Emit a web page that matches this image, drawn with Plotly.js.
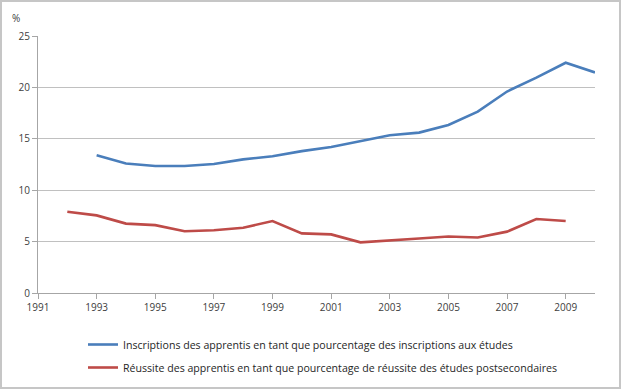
<!DOCTYPE html>
<html><head><meta charset="utf-8">
<script src="https://cdn.plot.ly/plotly-3.0.1.min.js"></script>
<style>
html,body{margin:0;padding:0;background:#fff;}
#wrap{width:621px;height:389px;box-sizing:border-box;border:2px solid #c6c6c6;background:#fff;}
#chart{width:617px;height:385px;}
</style></head>
<body><div id="wrap"><div id="chart"></div></div>
<script>
const yearsEnroll = [1993,1994,1995,1996,1997,1998,1999,2000,2001,2002,2003,2004,2005,2006,2007,2008,2009,2010];
const enroll = [13.4,12.6,12.35,12.35,12.55,13.0,13.3,13.8,14.2,14.8,15.35,15.6,16.35,17.65,19.6,20.95,22.4,21.45];
const yearsGrad = [1992,1993,1994,1995,1996,1997,1998,1999,2000,2001,2002,2003,2004,2005,2006,2007,2008,2009];
const grad = [7.9,7.55,6.75,6.6,6.0,6.1,6.35,7.0,5.8,5.7,4.93,5.15,5.3,5.5,5.4,5.97,7.2,7.0];
const xTicks = [1991,1993,1995,1997,1999,2001,2003,2005,2007,2009];
const yTicks = [0,5,10,15,20,25];
const nameEnroll = "Inscriptions des apprentis en tant que pourcentage des inscriptions aux études";
const nameGrad = "Réussite des apprentis en tant que pourcentage de réussite des études postsecondaires";

const font = {family: "Open Sans, DejaVu Sans, sans-serif", size: 10, color: "#404040"};
const traces = [
  {x: yearsEnroll, y: enroll, name: nameEnroll, type: "scatter", mode: "lines",
   line: {color: "#4a7ebb", width: 2.6}, legendgroup: "a"},
  {x: yearsGrad, y: grad, name: nameGrad, type: "scatter", mode: "lines",
   line: {color: "#be4b48", width: 2.6}, legendgroup: "b"}
];
const plotW = 617 - 36 - 24, plotH = 385 - 34 - 94;
const layout = {
  width: 617, height: 385,
  margin: {l: 36, r: 24, t: 34, b: 94, pad: 0, autoexpand: false},
  paper_bgcolor: "#fff", plot_bgcolor: "#fff",
  font: font,
  showlegend: true,
  legend: {x: (81 - 36) / plotW, y: 1 - (328 - 34) / plotH, xanchor: "left", yanchor: "top",
           orientation: "v", traceorder: "grouped", tracegroupgap: 4, font: {family: font.family, size: 10.6, color: "#262626"},
           bgcolor: "rgba(0,0,0,0)"},
  xaxis: {range: [1991, 2010], tickvals: xTicks, ticktext: xTicks.map(String), showgrid: false, zeroline: false,
          showline: true, linecolor: "#a6a6a6", linewidth: 1, ticks: "outside", ticklen: 5, tickcolor: "#a6a6a6",
          tickfont: {size: 10, color: "#404040"}, fixedrange: true},
  yaxis: {range: [0, 25], tickvals: yTicks, ticktext: yTicks.map(String), showgrid: true, gridcolor: "#c0c0c0", gridwidth: 1,
          zeroline: false, showline: true, linecolor: "#a6a6a6", linewidth: 1, ticks: "outside", ticklen: 5, tickcolor: "#a6a6a6",
          tickfont: {size: 10, color: "#404040"}, fixedrange: true},
  annotations: [{text: "%", xref: "paper", yref: "paper", x: -0.04, y: 1.07, xanchor: "center", yanchor: "middle",
                 showarrow: false, font: {family: font.family, size: 10, color: "#404040"}}]
};
Plotly.newPlot("chart", traces, layout, {displayModeBar: false, staticPlot: true});
</script></body></html>
